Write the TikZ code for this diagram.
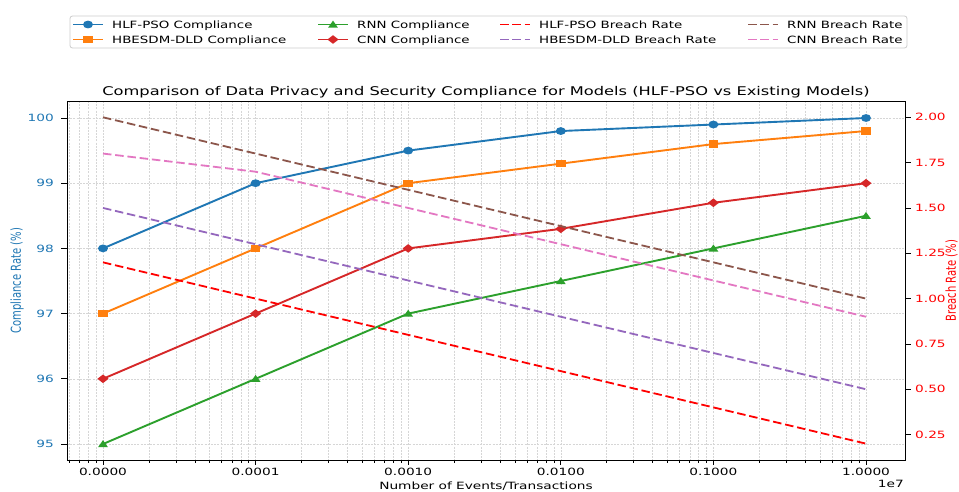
\documentclass[tikz,border=0pt]{standalone}
\usepackage{fontspec}
\setmainfont{DejaVu Sans}
\usetikzlibrary{calc}

% matplotlib "tab" palette
\definecolor{tblue}{HTML}{1F77B4}
\definecolor{torange}{HTML}{FF7F0E}
\definecolor{tgreen}{HTML}{2CA02C}
\definecolor{tred}{HTML}{D62728}
\definecolor{tpurple}{HTML}{9467BD}
\definecolor{tbrown}{HTML}{8C564B}
\definecolor{tpink}{HTML}{E377C2}
\definecolor{bred}{HTML}{FF0000}

% wide text (horizontal stretch) and its rotated counterpart
\newcommand{\hs}[1]{\scalebox{1.37}[1]{#1}}
\newcommand{\ls}[1]{\scalebox{1.34}[1]{#1}}
\newcommand{\vs}[1]{\scalebox{1}[1.37]{#1}}

\tikzset{
  gridline/.style={line width=0.5pt, draw=black!16, dash pattern=on 2pt off 1.2pt},
  cline/.style={line width=1.9pt, line join=round},
  bline/.style={line width=1.8pt, dash pattern=on 8.5pt off 3.8pt},
  lab/.style={inner sep=0pt, font=\fontsize{10}{12}\selectfont},
  mcirc/.pic={\fill (0,0) ellipse [x radius=5.0, y radius=3.9];},
  msq/.pic={\fill (-4.8,-3.7) rectangle (4.8,3.7);},
  mtri/.pic={\fill (0,-3.9) -- (-4.9,3.1) -- (4.9,3.1) -- cycle;},
  mdia/.pic={\fill (-5.6,0) -- (0,-4.3) -- (5.6,0) -- (0,4.3) -- cycle;},
}

\begin{document}
\begin{tikzpicture}[x=1pt,y=-1pt]
\useasboundingbox[fill=white] (0,0) rectangle (959,491);

% ---------- grid (log x axis, left y axis) ----------
\foreach \i in {0,...,5}{
  \draw[gridline] ({103+152.6*\i},101) -- ({103+152.6*\i},460);
}
\foreach \i in {-1,...,4}{
  \foreach \k in {2,...,9}{
    \pgfmathsetmacro{\xx}{103+152.6*(\i+ln(\k)/ln(10))}
    \pgfmathtruncatemacro{\ok}{\xx>67}
    \ifnum\ok=1
      \draw[gridline] (\xx,101) -- (\xx,460);
      \draw[line width=0.6pt] (\xx,460) -- (\xx,463);
    \fi
  }
}
\foreach \v in {95,...,100}{
  \draw[gridline] (67,{118+(100-\v)*65.2}) -- (905,{118+(100-\v)*65.2});
}

% ---------- data points ----------
% compliance (left axis)
\begin{scope}[shift={(103,6638)}, x=152.6pt, y=65.2pt]
  \foreach \v [count=\i from 0] in {98,99,99.5,99.8,99.9,100} \coordinate (hp\i) at (\i,\v);
  \foreach \v [count=\i from 0] in {97,98,99,99.3,99.6,99.8} \coordinate (hb\i) at (\i,\v);
  \foreach \v [count=\i from 0] in {95,96,97,97.5,98,98.5} \coordinate (rn\i) at (\i,\v);
  \foreach \v [count=\i from 0] in {96,97,98,98.3,98.7,99} \coordinate (cn\i) at (\i,\v);
\end{scope}
% breach rate (right axis)
\begin{scope}[shift={(103,479.9)}, x=152.6pt, y=181.3pt]
  \foreach \v [count=\i from 0] in {1.2,1.0,0.8,0.6,0.4,0.2} \coordinate (bhp\i) at (\i,\v);
  \foreach \v [count=\i from 0] in {1.5,1.3,1.1,0.9,0.7,0.5} \coordinate (bhb\i) at (\i,\v);
  \foreach \v [count=\i from 0] in {2.0,1.8,1.6,1.4,1.2,1.0} \coordinate (brn\i) at (\i,\v);
  \foreach \v [count=\i from 0] in {1.8,1.7,1.5,1.3,1.1,0.9} \coordinate (bcn\i) at (\i,\v);
\end{scope}

% ---------- compliance curves ----------
\draw[cline,tblue]   (hp0) \foreach \i in {1,...,5}{ -- (hp\i)};
\foreach \i in {0,...,5} \pic[tblue] at (hp\i) {mcirc};
\draw[cline,torange] (hb0) \foreach \i in {1,...,5}{ -- (hb\i)};
\foreach \i in {0,...,5} \pic[torange] at (hb\i) {msq};
\draw[cline,tgreen]  (rn0) \foreach \i in {1,...,5}{ -- (rn\i)};
\foreach \i in {0,...,5} \pic[tgreen] at (rn\i) {mtri};
\draw[cline,tred]    (cn0) \foreach \i in {1,...,5}{ -- (cn\i)};
\foreach \i in {0,...,5} \pic[tred] at (cn\i) {mdia};

% ---------- breach-rate curves ----------
\draw[bline,bred]    (bhp0) \foreach \i in {1,...,5}{ -- (bhp\i)};
\draw[bline,tpurple] (bhb0) \foreach \i in {1,...,5}{ -- (bhb\i)};
\draw[bline,tbrown]  (brn0) \foreach \i in {1,...,5}{ -- (brn\i)};
\draw[bline,tpink]   (bcn0) \foreach \i in {1,...,5}{ -- (bcn\i)};

% ---------- axes frame and ticks ----------
\draw[line width=1pt] (67,101) rectangle (905,460);
\foreach \t [count=\i from 0] in {0.0000,0.0001,0.0010,0.0100,0.1000,1.0000}{
  \draw[line width=0.8pt] ({103+152.6*\i},460) -- ({103+152.6*\i},465);
  \node[lab, anchor=base] (xt\i) at ({103+152.6*\i},475) {\hs{\t}};
}
\foreach \v [count=\i] in {95,...,100}{
  \draw[line width=0.8pt] (61,{118+(100-\v)*65.2}) -- (67,{118+(100-\v)*65.2});
  \node[lab, anchor=east, text=tblue] (yl\i) at (54,{118+(100-\v)*65.2}) {\hs{\v}};
}
\foreach \r/\t [count=\i] in {0.25/0.25,0.5/0.50,0.75/0.75,1/1.00,1.25/1.25,1.5/1.50,1.75/1.75,2/2.00}{
  \draw[line width=0.8pt] (905,{117.3+(2-\r)*181.3}) -- (911,{117.3+(2-\r)*181.3});
  \node[lab, anchor=west, text=bred] (yr\i) at (915,{117.3+(2-\r)*181.3}) {\hs{\t}};
}

% ---------- labels ----------
\node[inner sep=0pt, anchor=base, font=\fontsize{12}{14}\selectfont] (title) at (486,95.7)
  {\scalebox{1.355}[1]{Comparison of Data Privacy and Security Compliance for Models (HLF-PSO vs Existing Models)}};
\node[lab, anchor=base] (xlabel) at (486,489.5) {\hs{Number of Events/Transactions}};
\node[lab, anchor=base east] (xoff) at (904,487) {\hs{1e7}};
\node[lab, rotate=90, text=tblue] (ylabel) at (17,280.5) {\vs{Compliance Rate (\%)}};
\node[lab, rotate=90, text=bred] (y2label) at (951.5,280.5) {\vs{Breach Rate (\%)}};

% ---------- legend ----------
\draw[draw=black!20, fill=white, line width=0.8pt, rounded corners=2.5pt] (70,16) rectangle (907,48);
\foreach \x/\c/\m/\t/\y in {73/tblue/mcirc/HLF-PSO Compliance/24.5,
                            73/torange/msq/HBESDM-DLD Compliance/39.5,
                            318/tgreen/mtri/RNN Compliance/24.5,
                            318/tred/mdia/CNN Compliance/39.5}{
  \draw[cline,\c] (\x,\y) -- (\x+30,\y);
  \pic[\c] at (\x+15,\y) {\m};
  \node[lab, anchor=base west] at (\x+39,\y+3.6) {\ls{\t}};
}
\foreach \x/\c/\t/\y in {500/bred/HLF-PSO Breach Rate/24.5,
                         500/tpurple/HBESDM-DLD Breach Rate/39.5,
                         748/tbrown/RNN Breach Rate/24.5,
                         748/tpink/CNN Breach Rate/39.5}{
  \draw[bline,\c] (\x,\y) -- (\x+30,\y);
  \node[lab, anchor=base west] at (\x+39,\y+3.6) {\ls{\t}};
}
\end{tikzpicture}
\end{document}
